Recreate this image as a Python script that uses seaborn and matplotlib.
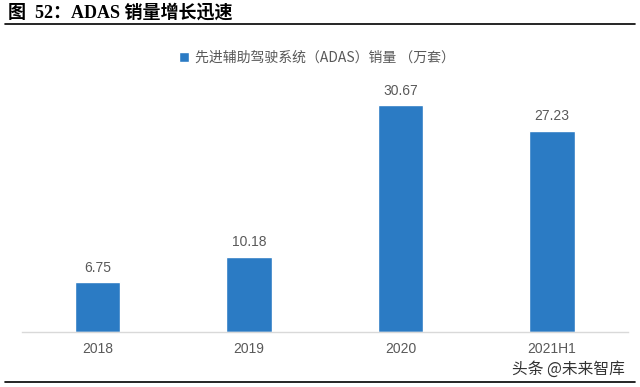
import numpy as np
import pandas as pd
import matplotlib
matplotlib.use("Agg")
import matplotlib.pyplot as plt
import seaborn as sns

years=['2018','2019','2020','2021H1']
sales=[6.75,10.18,30.67,27.23]
series_name='先进辅助驾驶系统（ADAS）销量 （万套）'
title='图  52：ADAS 销量增长迅速'
source='头条 @未来智库'

bar_color='#2b7bc4'
grey='#595959'

sns.set_theme(style='white')
plt.rcParams['font.family']=['Noto Sans CJK SC','DejaVu Sans']

df=pd.DataFrame({'year':years,'sales':sales})

fig=plt.figure(figsize=(6.4,3.87),dpi=100)
ax=fig.add_axes([0.034,0.142,0.947,0.765])

sns.barplot(data=df,x='year',y='sales',color=bar_color,width=0.30,
            saturation=1,ax=ax,label=series_name)

for i,v in enumerate(sales):
    ax.text(i,v+1.0,f'{v:.2f}',ha='center',va='bottom',fontsize=10,color=grey,
            family=['Liberation Sans','DejaVu Sans'])

ax.set_ylim(0,40)
ax.set_xlim(-0.5,3.5)
ax.set_xlabel('')
ax.set_ylabel('')
ax.set_yticks([])
ax.tick_params(axis='x',length=0,pad=7,labelsize=10,labelcolor=grey)
for lab in ax.get_xticklabels():
    lab.set_family(['Liberation Sans','DejaVu Sans'])
for s in ['top','right','left']:
    ax.spines[s].set_visible(False)
ax.spines['bottom'].set_color('#d9d9d9')
ax.spines['bottom'].set_linewidth(1)

leg=ax.legend(loc='center',bbox_to_anchor=(0.487,0.926),frameon=False,
              fontsize=10,handlelength=0.7,handleheight=0.7,handletextpad=0.4,
              labelcolor=grey)

fig.text(0.012,0.968,title,fontsize=13,fontweight='bold',va='center',ha='left',
         family=['Liberation Serif','Noto Sans CJK SC'],color='black')
fig.add_artist(plt.Line2D([0.008,0.992],[0.937,0.937],color='black',lw=1.2))
fig.add_artist(plt.Line2D([0.008,0.992],[0.012,0.012],color='black',lw=1.2))
fig.text(0.977,0.045,source,fontsize=11.3,ha='right',va='center',color='#333333')

fig.savefig('out.png',dpi=100)
